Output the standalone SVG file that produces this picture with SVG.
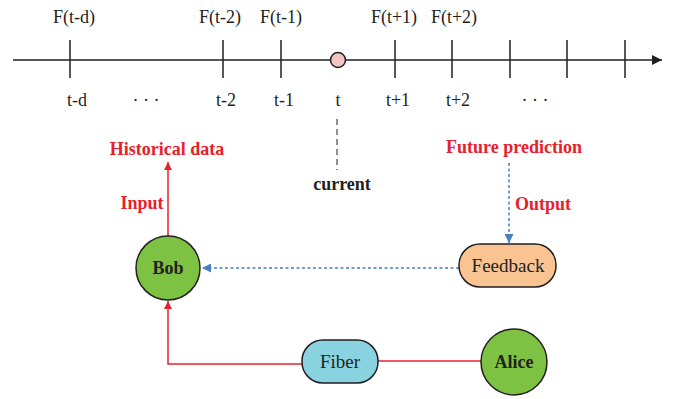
<svg xmlns="http://www.w3.org/2000/svg" width="674" height="399" viewBox="0 0 674 399">
  <style>
    .lbl { font-family: "Liberation Serif", "Times New Roman", serif; font-size: 18px; fill: #231f20; text-anchor: middle; }
    .bold { font-family: "Liberation Serif", "Times New Roman", serif; font-size: 18px; font-weight: bold; text-anchor: middle; }
    .red { fill: #e8202a; }
    .blk { fill: #231f20; }
    .tick { stroke: #231f20; stroke-width: 1.5; }
    .node { stroke: #231f20; stroke-width: 1.5; }
  </style>
  <defs>
    <marker id="arrBlack" viewBox="0 0 10 10" refX="10" refY="5" markerWidth="10" markerHeight="10" markerUnits="userSpaceOnUse" orient="auto">
      <path d="M0,0 L10,5 L0,10 z" fill="#231f20"/>
    </marker>
    <marker id="arrRed" viewBox="0 0 10 10" refX="10" refY="5" markerWidth="8" markerHeight="8" markerUnits="userSpaceOnUse" orient="auto">
      <path d="M0,0 L10,5 L0,10 z" fill="#e8202a"/>
    </marker>
    <marker id="arrBlue" viewBox="0 0 10 10" refX="10" refY="5" markerWidth="9" markerHeight="9" markerUnits="userSpaceOnUse" orient="auto">
      <path d="M0,0 L10,5 L0,10 z" fill="#4a7ec0"/>
    </marker>
  </defs>

  <!-- time axis -->
  <g id="timeline">
    <line x1="13" y1="60" x2="662" y2="60" stroke="#231f20" stroke-width="1.5" marker-end="url(#arrBlack)"/>
    <line class="tick" x1="70" y1="40" x2="70" y2="78"/>
    <line class="tick" x1="223" y1="40" x2="223" y2="78"/>
    <line class="tick" x1="281" y1="40" x2="281" y2="78"/>
    <line class="tick" x1="395" y1="40" x2="395" y2="78"/>
    <line class="tick" x1="452" y1="40" x2="452" y2="78"/>
    <line class="tick" x1="510" y1="40" x2="510" y2="78"/>
    <line class="tick" x1="567" y1="40" x2="567" y2="78"/>
    <line class="tick" x1="625" y1="40" x2="625" y2="78"/>
    <circle cx="338" cy="60" r="7.5" fill="#f2c4c4" stroke="#231f20" stroke-width="1.5"/>

    <text class="lbl" x="74" y="23">F(t-d)</text>
    <text class="lbl" x="220" y="23">F(t-2)</text>
    <text class="lbl" x="281" y="23">F(t-1)</text>
    <text class="lbl" x="394" y="23">F(t+1)</text>
    <text class="lbl" x="454" y="23">F(t+2)</text>

    <text class="lbl" x="77" y="106">t-d</text>
    <text class="lbl" x="146" y="106">· · ·</text>
    <text class="lbl" x="226" y="106">t-2</text>
    <text class="lbl" x="284" y="106">t-1</text>
    <text class="lbl" x="338" y="106">t</text>
    <text class="lbl" x="398" y="106">t+1</text>
    <text class="lbl" x="458" y="106">t+2</text>
    <text class="lbl" x="535" y="106">· · ·</text>

    <line x1="337" y1="119" x2="337" y2="170" stroke="#231f20" stroke-width="1" stroke-dasharray="6,4"/>
    <text class="bold blk" x="342" y="190">current</text>
  </g>

  <!-- connectors -->
  <g id="connectors" fill="none">
    <line x1="168" y1="236" x2="168" y2="162" stroke="#e8202a" stroke-width="1.5" marker-end="url(#arrRed)"/>
    <polyline points="302,364 168,364 168,301" stroke="#e8202a" stroke-width="1.5" marker-end="url(#arrRed)"/>
    <line x1="481" y1="361" x2="378" y2="361" stroke="#e8202a" stroke-width="1.5"/>
    <line x1="459" y1="268" x2="202" y2="268" stroke="#4a7ec0" stroke-width="1.5" stroke-dasharray="3,2.5" marker-end="url(#arrBlue)"/>
    <line x1="509" y1="163" x2="509" y2="243" stroke="#4a7ec0" stroke-width="1.5" stroke-dasharray="3,2.5" marker-end="url(#arrBlue)"/>
  </g>

  <!-- connector labels -->
  <g id="labels">
    <text class="bold red" x="167" y="155">Historical data</text>
    <text class="bold red" x="142" y="209">Input</text>
    <text class="bold red" x="514" y="153">Future prediction</text>
    <text class="bold red" x="543" y="210">Output</text>
  </g>

  <g id="bob">
    <circle class="node" cx="168" cy="268" r="32" fill="#7dc242"/>
    <text class="bold blk" x="168" y="274">Bob</text>
  </g>

  <g id="feedback">
    <rect class="node" x="459" y="244" width="97" height="43" rx="21" fill="#f9c392"/>
    <text class="lbl" x="508" y="272" style="font-size:19px">Feedback</text>
  </g>

  <g id="fiber">
    <rect class="node" x="302" y="340" width="76" height="43" rx="21" fill="#89d3e0"/>
    <text class="lbl" x="340" y="368" style="font-size:19px">Fiber</text>
  </g>

  <g id="alice">
    <circle class="node" cx="514" cy="362" r="33" fill="#7dc242"/>
    <text class="bold blk" x="514" y="368">Alice</text>
  </g>
</svg>
